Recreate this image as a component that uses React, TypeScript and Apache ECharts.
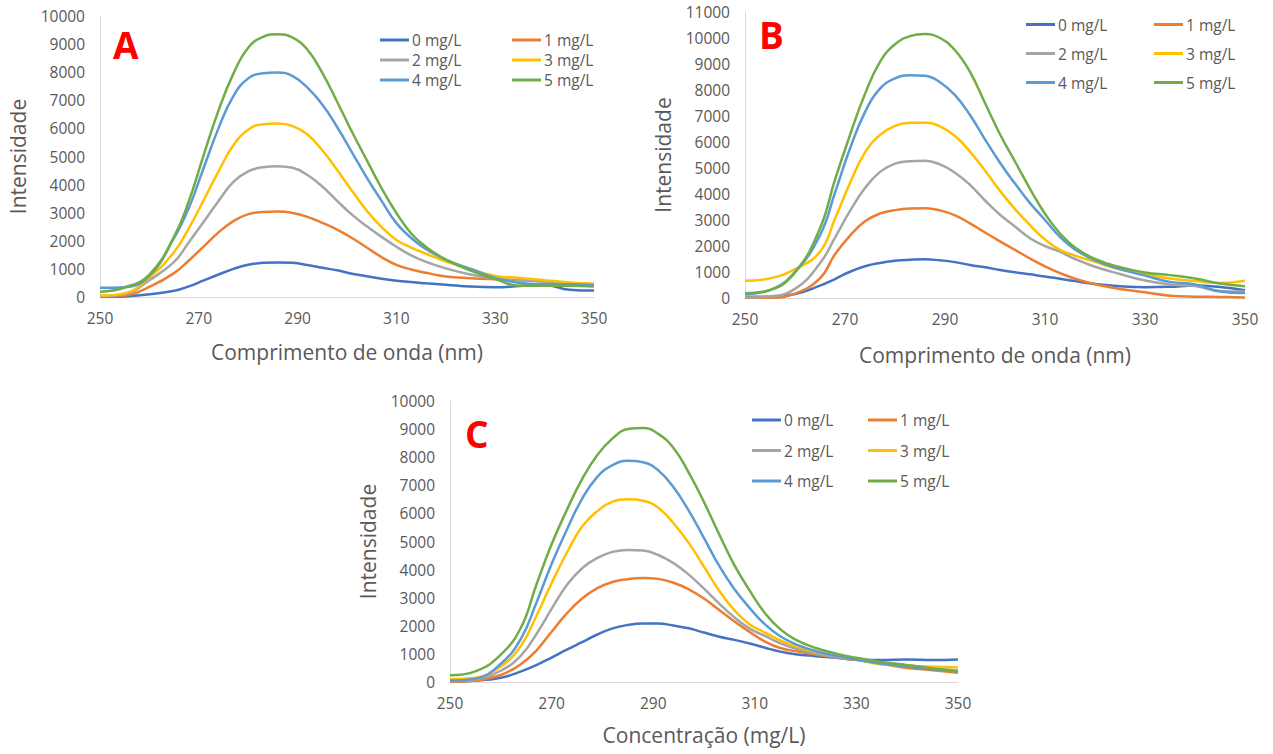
import React, { useEffect, useRef } from "react";
import * as echarts from "echarts";

const NAMES = ["0 mg/L", "1 mg/L", "2 mg/L", "3 mg/L", "4 mg/L", "5 mg/L"];
const COLORS = ["#4472C4", "#ED7D31", "#A5A5A5", "#FFC000", "#5B9BD5", "#70AD47"];

// Chart A
const X_A = [250, 255, 260, 265, 268, 271, 274, 277, 280, 283, 286, 289, 292, 295, 298, 301, 304, 307, 310, 313, 316, 320, 325, 330, 335, 340, 345, 350];
const A0 = [0, 20, 100, 220, 380, 590, 800, 1000, 1145, 1215, 1230, 1215, 1140, 1040, 950, 830, 740, 650, 580, 530, 490, 440, 370, 345, 390, 430, 260, 230];
const A1 = [20, 50, 360, 850, 1300, 1800, 2300, 2700, 2950, 3025, 3040, 2990, 2850, 2640, 2400, 2100, 1760, 1420, 1140, 980, 860, 730, 670, 630, 600, 560, 500, 450];
const A2 = [30, 100, 600, 1250, 1950, 2680, 3420, 4100, 4470, 4620, 4655, 4600, 4340, 3930, 3420, 2930, 2520, 2140, 1790, 1480, 1250, 1020, 800, 650, 600, 550, 480, 400];
const A3 = [50, 130, 700, 1600, 2450, 3450, 4470, 5400, 5950, 6150, 6170, 6080, 5780, 5220, 4520, 3780, 3070, 2490, 2030, 1760, 1540, 1260, 1000, 750, 680, 600, 520, 470];
const A4 = [330, 350, 750, 2100, 3180, 4600, 6010, 7150, 7780, 7960, 7990, 7860, 7450, 6850, 6050, 5150, 4250, 3420, 2630, 2100, 1700, 1330, 1000, 680, 500, 450, 450, 430];
const A5 = [190, 340, 800, 2150, 3420, 5060, 6640, 7950, 8870, 9260, 9350, 9230, 8800, 7980, 6950, 5880, 4870, 3870, 2990, 2260, 1780, 1330, 940, 640, 400, 400, 400, 370];

// Chart B
const X_B = [250, 255, 260, 265, 268, 271, 274, 277, 280, 283, 286, 289, 292, 295, 298, 301, 304, 307, 310, 313, 316, 320, 325, 330, 335, 340, 345, 350];
const B0 = [50, 50, 150, 475, 730, 1010, 1220, 1350, 1430, 1470, 1490, 1450, 1380, 1270, 1180, 1080, 990, 910, 830, 740, 650, 540, 450, 410, 430, 480, 420, 300];
const B1 = [0, 10, 170, 760, 1680, 2400, 2950, 3250, 3380, 3440, 3450, 3370, 3180, 2870, 2520, 2180, 1850, 1520, 1220, 960, 740, 530, 350, 220, 90, 50, 40, 20];
const B2 = [20, 60, 350, 1335, 2320, 3350, 4230, 4850, 5170, 5260, 5280, 5140, 4820, 4350, 3750, 3200, 2750, 2300, 2000, 1780, 1500, 1200, 920, 670, 520, 460, 270, 250];
const B3 = [665, 755, 1110, 1780, 3050, 4420, 5600, 6270, 6620, 6740, 6740, 6600, 6230, 5630, 4900, 4120, 3420, 2800, 2250, 1850, 1630, 1390, 1100, 900, 750, 650, 580, 665];
const B4 = [150, 300, 1000, 2420, 4050, 5750, 7150, 8050, 8450, 8570, 8550, 8300, 7800, 7040, 6100, 5200, 4400, 3650, 3000, 2350, 1870, 1450, 1110, 860, 620, 520, 250, 190];
const B5 = [180, 307, 985, 2680, 4550, 6270, 7850, 9080, 9760, 10070, 10150, 10000, 9530, 8700, 7500, 6300, 5250, 4200, 3240, 2480, 1940, 1500, 1180, 980, 880, 750, 560, 450];

// Chart C
const X_C = [250, 255, 260, 264, 267, 270, 273, 276, 279, 282, 285, 288, 291, 294, 297, 300, 303, 306, 309, 312, 315, 318, 322, 326, 330, 335, 340, 345, 350];
const C0 = [0, 50, 150, 380, 600, 870, 1150, 1420, 1690, 1910, 2030, 2080, 2080, 2010, 1910, 1760, 1610, 1500, 1370, 1220, 1080, 990, 920, 860, 790, 780, 800, 780, 800];
const C1 = [0, 50, 250, 640, 1120, 1790, 2440, 2970, 3340, 3560, 3660, 3700, 3670, 3530, 3300, 2970, 2560, 2150, 1780, 1440, 1210, 1100, 980, 880, 780, 650, 500, 420, 330];
const C2 = [30, 100, 400, 950, 1700, 2600, 3450, 4050, 4420, 4630, 4700, 4680, 4520, 4230, 3820, 3320, 2790, 2300, 1900, 1640, 1380, 1200, 1010, 890, 790, 680, 600, 500, 400];
const C3 = [100, 150, 550, 1300, 2350, 3520, 4600, 5530, 6080, 6420, 6500, 6450, 6200, 5650, 4950, 4100, 3250, 2550, 2050, 1760, 1480, 1270, 1080, 930, 810, 620, 580, 540, 520];
const C4 = [50, 120, 650, 1550, 2820, 4200, 5420, 6520, 7300, 7720, 7870, 7820, 7530, 6930, 6100, 5120, 4130, 3300, 2630, 2050, 1630, 1350, 1100, 930, 800, 650, 550, 450, 380];
const C5 = [240, 380, 975, 1950, 3460, 4900, 6120, 7220, 8080, 8670, 9000, 9040, 8830, 8330, 7450, 6400, 5250, 4150, 3250, 2450, 1880, 1510, 1210, 1010, 860, 710, 600, 480, 360];

const FONT = "'Open Sans', 'Noto Sans', sans-serif";
const GRAY = "#595959";
const AXIS = "#D9D9D9";

const pairs = (xs: number[], ys: number[]) => xs.map((x, i) => [x, ys[i]]);

export default function App() {
  const ref = useRef<HTMLDivElement>(null);
  useEffect(() => {
    if (!ref.current) return;
    const chart = echarts.init(ref.current, undefined, { renderer: "svg" });

    const grids = [
      { left: 100, top: 16, width: 494, height: 281 },
      { left: 745, top: 12, width: 500, height: 286 },
      { left: 450, top: 401, width: 508, height: 281 },
    ];
    const xNames = ["Comprimento de onda (nm)", "Comprimento de onda (nm)", "Concentração (mg/L)"];
    const xGaps = [44, 46, 42];
    const yMax = [10000, 11000, 10000];
    const xs = [X_A, X_B, X_C];
    const ys = [
      [A0, A1, A2, A3, A4, A5],
      [B0, B1, B2, B3, B4, B5],
      [C0, C1, C2, C3, C4, C5],
    ];

    const xAxis = grids.map((_, i) => ({
      type: "value",
      gridIndex: i,
      min: 250,
      max: 350,
      interval: 20,
      name: xNames[i],
      nameLocation: "middle",
      nameGap: xGaps[i],
      nameTextStyle: { fontSize: 21, color: GRAY, fontFamily: FONT },
      axisLine: { show: true, lineStyle: { color: AXIS, width: 1 } },
      axisTick: { show: false },
      splitLine: { show: false },
      axisLabel: { fontSize: 15.5, color: GRAY, fontFamily: FONT, margin: 13 },
    }));
    const yAxis = grids.map((_, i) => ({
      type: "value",
      gridIndex: i,
      min: 0,
      max: yMax[i],
      interval: 1000,
      name: "Intensidade",
      nameLocation: "middle",
      nameGap: 72,
      nameTextStyle: { fontSize: 21, color: GRAY, fontFamily: FONT },
      axisLine: { show: true, lineStyle: { color: AXIS, width: 1 } },
      axisTick: { show: false },
      splitLine: { show: false },
      axisLabel: {
        fontSize: 15.5,
        color: GRAY,
        fontFamily: FONT,
        margin: 15,
        formatter: (v: number) => String(v),
      },
    }));

    const series: any[] = [];
    for (let g = 0; g < 3; g++) {
      for (let s = 0; s < 6; s++) {
        series.push({
          type: "line",
          name: NAMES[s],
          xAxisIndex: g,
          yAxisIndex: g,
          data: pairs(xs[g], ys[g][s]),
          smooth: 0.45,
          symbol: "none",
          color: COLORS[s],
          lineStyle: { color: COLORS[s], width: 2.5 },
        });
      }
    }

    const legendPos = [
      { l: [380, 512], top: 32, gap: 4 },
      { l: [1026, 1154], top: 16.5, gap: 13 },
      { l: [752, 868], top: 412, gap: 14.5 },
    ];
    const legend: any[] = [];
    legendPos.forEach((p) => {
      [[0, 2, 4], [1, 3, 5]].forEach((idx, c) => {
        legend.push({
          orient: "vertical",
          left: p.l[c],
          top: p.top,
          padding: 0,
          itemGap: p.gap,
          itemWidth: 29,
          itemHeight: 3,
          icon: "rect",
          data: idx.map((k) => NAMES[k]),
          textStyle: { fontSize: 15.5, color: GRAY, fontFamily: FONT, lineHeight: 16, padding: [0, 0, 0, -2] },
        });
      });
    });

    const letters = [
      { t: "A", x: 113, y: 45 },
      { t: "B", x: 759, y: 35 },
      { t: "C", x: 465, y: 434 },
    ];
    const graphic = letters.map((l) => ({
      type: "text",
      left: l.x,
      top: l.y - 19,
      style: {
        text: l.t,
        fill: "#FF0000",
        font: `bold 37px ${FONT}`,
      },
    }));

    chart.setOption({
      animation: false,
      backgroundColor: "#FFFFFF",
      grid: grids,
      xAxis,
      yAxis,
      legend,
      graphic,
      series,
    });
    return () => chart.dispose();
  }, []);

  return (
    <div
      ref={ref}
      style={{ position: "fixed", left: 0, top: 0, width: 1273, height: 754, background: "#fff" }}
    />
  );
}
